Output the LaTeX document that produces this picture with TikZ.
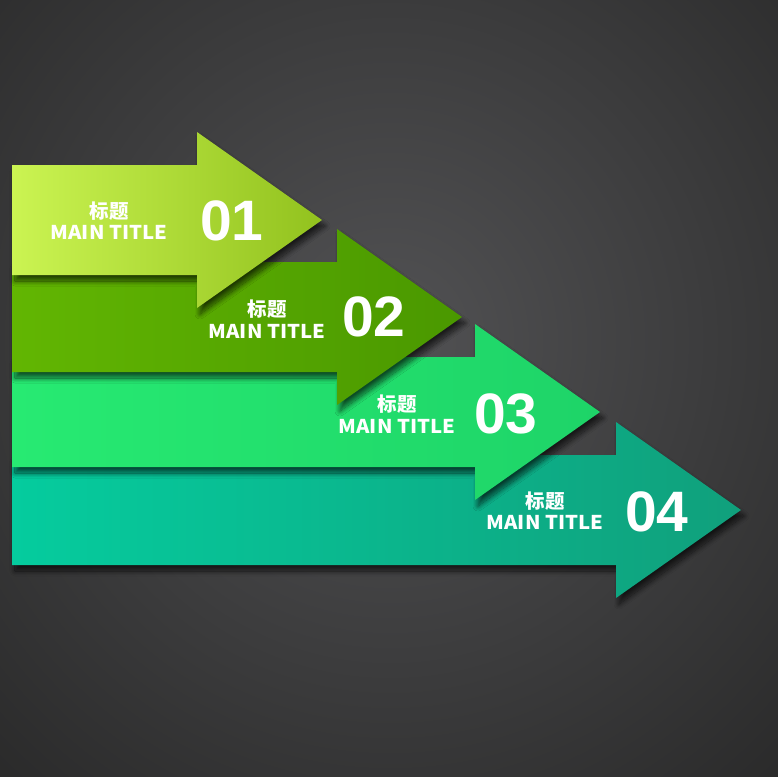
\documentclass[tikz,border=0pt]{standalone}
\usepackage{fontspec}
\setmainfont{Liberation Sans}
\newfontfamily\cjk{Noto Sans CJK SC}
\usetikzlibrary{shadows.blur}
\definecolor{bgin}{HTML}{525254}
\definecolor{bgout}{HTML}{262626}
\definecolor{aoneL}{HTML}{CBF452}
\definecolor{aoneR}{HTML}{92C21E}
\definecolor{atwoL}{HTML}{62B602}
\definecolor{atwoR}{HTML}{4A9800}
\definecolor{athreeL}{HTML}{27EA72}
\definecolor{athreeR}{HTML}{1ED468}
\definecolor{afourL}{HTML}{05CC9E}
\definecolor{afourR}{HTML}{10A07C}
\newcommand\arrowshape[2]{(12,#1-55) -- (#2,#1-55) -- (#2,#1-88) -- (#2+125,#1) -- (#2,#1+88) -- (#2,#1+55) -- (12,#1+55) -- cycle}
\tikzset{
  arrowfill/.style 2 args={left color=#1, right color=#2,
    blur shadow={shadow xshift=3pt, shadow yshift=-6pt, shadow opacity=65, shadow blur steps=12, shadow blur radius=5pt}},
  cn/.style={text=white, font=\cjk\bfseries\fontsize{19.5}{19.5}\selectfont, inner sep=0pt},
  en/.style={text=white, font=\cjk\bfseries\fontsize{19}{19}\selectfont, inner sep=0pt, xscale=1.07},
  num/.style={text=white, font=\bfseries\fontsize{57}{57}\selectfont, inner sep=0pt}
}
\begin{document}
\begin{tikzpicture}[x=1pt,y=-1pt]
\useasboundingbox (0,0) rectangle (777,777);
\shade[inner color=bgin, outer color=bgout] (-250,-320) rectangle (1030,1000);
% arrows, bottom first
\path[arrowfill={afourL}{afourR}] \arrowshape{510}{616};
\path[arrowfill={athreeL}{athreeR}] \arrowshape{412}{475};
\path[arrowfill={atwoL}{atwoR}] \arrowshape{317}{337};
\path[arrowfill={aoneL}{aoneR}] \arrowshape{220}{197};
% texts
\node[cn] (t1) at (109,211) {标题};
\node[en] (e1) at (109,232) {MAIN TITLE};
\node[num] (n1) at (232,221) {01};
\node[cn] (t2) at (267,309) {标题};
\node[en] (e2) at (267,331) {MAIN TITLE};
\node[num] (n2) at (374,317) {02};
\node[cn] (t3) at (397,404) {标题};
\node[en] (e3) at (397,426) {MAIN TITLE};
\node[num] (n3) at (506,414) {03};
\node[cn] (t4) at (545,501) {标题};
\node[en] (e4) at (545,522) {MAIN TITLE};
\node[num] (n4) at (657,512) {04};
\end{tikzpicture}
\end{document}
